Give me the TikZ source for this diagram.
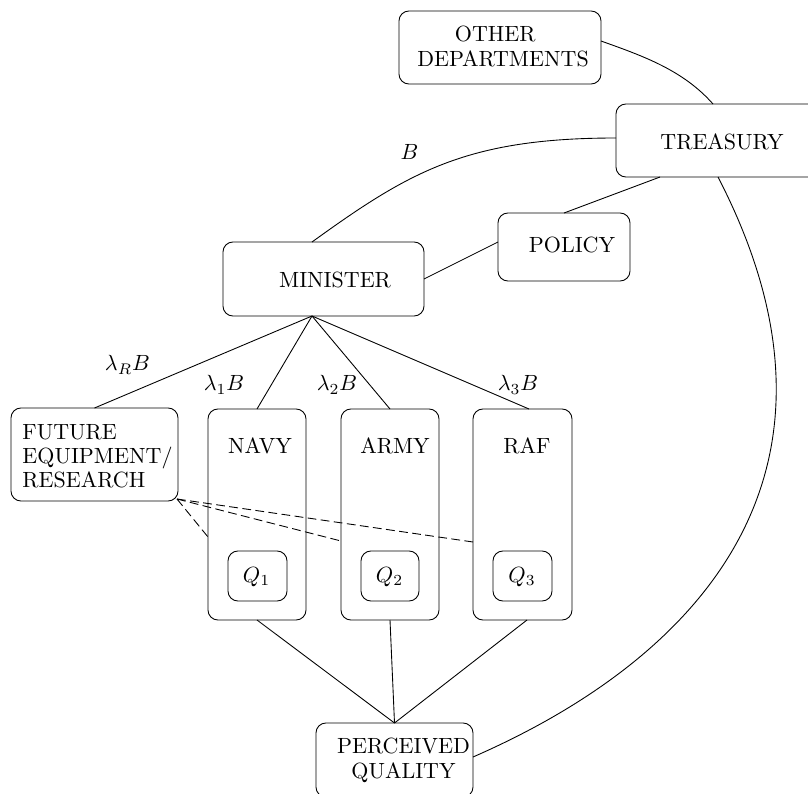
\documentclass[tikz,border=0pt]{standalone}
\usetikzlibrary{fit,calc}
\begin{document}
\begin{tikzpicture}[x=0.45455pt, y=-0.45455pt,
  box/.style={draw, rounded corners=4.5pt, inner sep=0pt, outer sep=0pt},
  txt/.style={inner sep=0pt},
  dashconn/.style={dash pattern=on 4pt off 2pt}]
\useasboundingbox (0,0) rectangle (808,794);
% boxes
\node[box, fit={(399,11) (601,84)}] (other) {};
\node[box, fit={(616,104) (832,177)}] (treasury) {};
\node[box, fit={(498,213) (630,281)}] (policy) {};
\node[box, fit={(223,242) (424,316)}] (minister) {};
\node[box, fit={(11,408) (178,501)}] (future) {};
\node[box, fit={(208,409) (306,620)}] (navy) {};
\node[box, fit={(341,409) (439,620)}] (army) {};
\node[box, fit={(473,409) (572,620)}] (raf) {};
\node[box, fit={(228,551) (287,601)}] (q1) {};
\node[box, fit={(361,551) (419,601)}] (q2) {};
\node[box, fit={(493,551) (552,601)}] (q3) {};
\node[box, fit={(316,723) (473,797)}] (pq) {};
% texts
\node[txt, align=center] (t-other) at (503,46.5) {OTHER\hspace*{7pt}\\[-1pt]DEPARTMENTS};
\node[txt] (t-treasury) at (722,142) {TREASURY};
\node[txt] (t-policy) at (572,245) {POLICY};
\node[txt] (t-minister) at (335,279.5) {MINISTER};
\node[txt, anchor=west, align=left] (t-future) at (22,456.5) {FUTURE\\[-1pt]EQUIPMENT/\\[-1pt]RESEARCH};
\node[txt] (t-navy) at (260,446) {NAVY};
\node[txt] (t-army) at (395,446) {ARMY};
\node[txt] (t-raf) at (527,446) {RAF};
\node[txt, anchor=base] (t-q1) at (256.5,582) {$Q_1$};
\node[txt, anchor=base] (t-q2) at (389.5,582) {$Q_2$};
\node[txt, anchor=base] (t-q3) at (522,582) {$Q_3$};
\node[txt, align=center] (t-pq) at (403.5,760) {PERCEIVED\\[-0.6pt]QUALITY};
% labels
\node[txt, anchor=base] (l-b) at (409.5,159) {$B$};
\node[txt, anchor=base] (l-r) at (127.5,370.7) {$\lambda_R B$};
\node[txt, anchor=base] (l-1) at (224,390.7) {$\lambda_1 B$};
\node[txt, anchor=base] (l-2) at (337,390.7) {$\lambda_2 B$};
\node[txt, anchor=base] (l-3) at (518,390.7) {$\lambda_3 B$};
% connectors
\draw ($(other.east)+(0,-6.5)$) .. controls +(42,15) and +(-30,-34) .. ($(treasury.north west)+(97,0)$);
\draw ($(treasury.west)+(0,-2.5)$) .. controls +(-150,0) and +(97,-70) .. ($(minister.north)+(-11.5,0)$);
\draw ($(treasury.south west)+(102,0)$) .. controls +(152,294) and +(229,-100) .. ($(pq.east)+(0,-3)$);
\draw (policy.north) -- ($(treasury.south west)+(44,0)$);
\draw (minister.east) -- ($(policy.west)+(0,-5)$);
\coordinate (fan) at ($(minister.south)+(-11.5,0)$);
\draw (fan) -- (future.north);
\draw (fan) -- (navy.north);
\draw (fan) -- (army.north);
\draw (fan) -- ($(raf.north)+(6.5,0)$);
\draw (navy.south) -- (pq.north);
\draw (army.south) -- (pq.north);
\draw ($(raf.south)+(4.5,0)$) -- (pq.north);
\draw[dashconn] ($(future.south east)+(-1,-2)$) -- ($(navy.north west)+(0,128)$);
\draw[dashconn] ($(future.south east)+(-1,-2)$) -- ($(army.north west)+(0,132)$);
\draw[dashconn] ($(future.south east)+(-1,-2)$) -- ($(raf.north west)+(0,133)$);
\end{tikzpicture}
\end{document}
